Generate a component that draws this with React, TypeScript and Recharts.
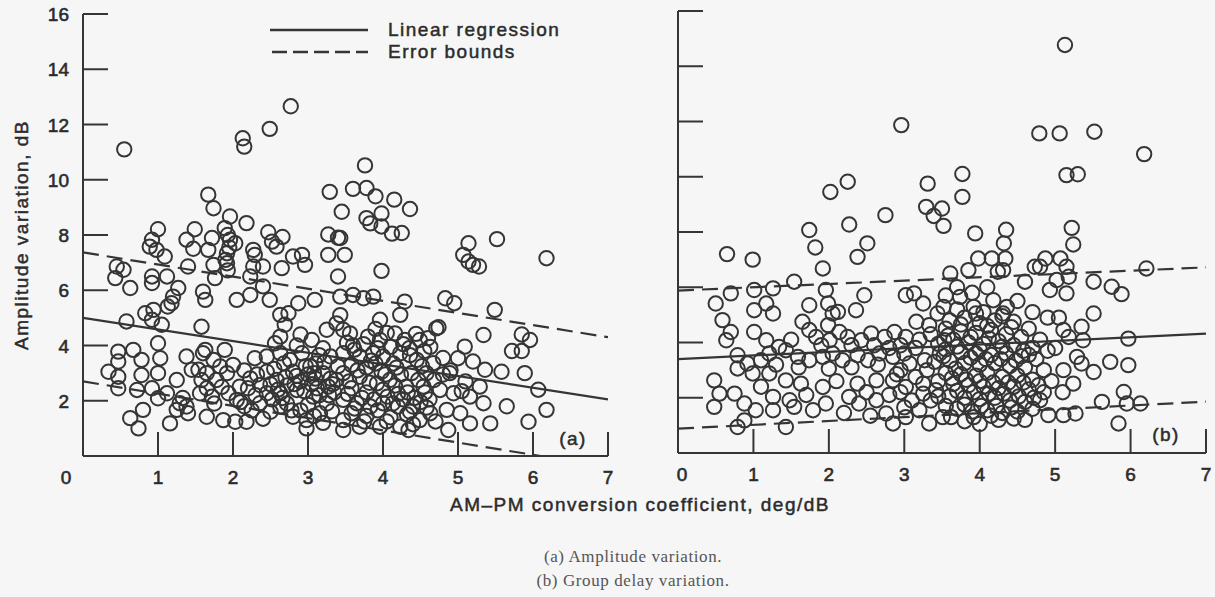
import React from 'react';
import { ScatterChart, Scatter, XAxis, YAxis, ReferenceLine } from 'recharts';

type Pt = [number, number];

const INK = '#353535';
const TEXT = '#2c2c2c';
const SANS = '"Liberation Sans", Arial, Helvetica, sans-serif';
const SERIF = '"Liberation Serif", "Times New Roman", serif';

const xTicks = [0, 1, 2, 3, 4, 5, 6, 7];
const yTicks = [0, 2, 4, 6, 8, 10, 12, 14, 16];

// (a) amplitude variation vs AM-PM coefficient
const ampHigh: Pt[] = [
  [0.55, 11.1], [2.13, 11.5], [2.15, 11.2], [2.49, 11.84], [2.77, 12.66],
  [1.67, 9.46], [1.74, 8.97], [1.96, 8.67], [2.18, 8.43], [1.89, 8.25], [1.0, 8.21], [1.49, 8.21], [2.47, 8.1], [2.66, 7.93],
  [3.29, 9.56], [3.45, 8.84], [3.6, 9.67], [3.76, 10.52], [3.78, 9.7], [3.9, 9.4], [4.15, 9.28], [4.36, 8.94], [3.78, 8.61],
  [3.98, 8.78], [3.83, 8.42], [3.98, 8.31], [4.12, 8.05], [4.25, 8.07], [3.27, 8.02], [3.4, 7.9],
  [0.92, 7.83], [1.38, 7.83], [1.72, 7.89], [1.96, 7.83], [2.03, 7.7], [1.93, 8.0], [2.52, 7.76], [2.58, 7.58], [0.89, 7.58],
  [1.47, 7.5], [1.67, 7.46], [0.98, 7.46], [1.95, 7.55], [2.27, 7.46], [3.43, 7.89],
  [5.52, 7.85], [5.14, 7.7], [6.18, 7.16],
];

const ampMid: Pt[] = [
  [1.92, 7.34], [1.09, 7.22], [2.8, 7.22], [2.92, 7.28], [3.27, 7.28], [3.49, 7.28], [2.29, 7.28], [5.07, 7.28], [5.14, 7.04],
  [5.2, 6.92], [5.28, 6.86],
  [0.45, 6.86], [0.54, 6.74], [0.43, 6.44], [1.4, 6.86], [1.74, 6.92], [1.92, 6.98], [1.9, 7.1], [2.27, 6.86], [2.4, 6.86],
  [2.65, 6.8], [2.96, 6.92], [1.93, 6.72], [3.98, 6.7],
  [0.92, 6.5], [1.12, 6.5], [0.63, 6.08], [0.92, 6.26], [1.27, 6.08], [1.76, 6.44], [2.23, 6.5], [2.4, 6.14], [3.4, 6.5],
  [1.6, 5.95], [1.63, 5.65], [2.05, 5.65], [2.23, 5.83], [2.49, 5.65], [2.87, 5.53], [3.09, 5.65], [1.18, 5.53], [1.2, 5.77],
  [1.13, 5.41], [0.83, 5.17], [0.94, 5.29], [2.63, 5.11], [2.74, 5.17], [3.43, 5.77], [3.6, 5.83], [3.74, 5.71], [3.87, 5.77],
  [4.29, 5.59], [4.83, 5.71], [4.95, 5.53], [5.49, 5.29], [4.23, 5.11], [3.43, 5.1],
];

const ampLowLeft: Pt[] = [
  [0.92, 4.93], [0.58, 4.87], [1.05, 4.75], [1.0, 4.08], [0.47, 3.78], [0.67, 3.84], [0.47, 3.42], [0.78, 3.48], [1.03, 3.54],
  [0.34, 3.05], [0.47, 2.87], [0.78, 2.93], [1.0, 3.0], [0.47, 2.45], [0.72, 2.39], [0.92, 2.45], [1.0, 2.09], [1.12, 2.27],
  [1.25, 2.75], [1.38, 3.6], [1.45, 3.12], [0.8, 1.67], [0.63, 1.37], [0.74, 1.0], [1.16, 1.18], [1.29, 1.91], [1.38, 1.79],
  [1.25, 1.67], [1.33, 2.1], [1.4, 1.55],
  [1.58, 4.68], [1.6, 3.72], [1.74, 3.48], [1.83, 3.24], [1.63, 3.84], [1.89, 3.84], [1.54, 3.12], [1.65, 3.0], [1.58, 2.75],
  [1.78, 2.75], [1.92, 3.0], [1.56, 2.27], [1.72, 2.15], [1.94, 2.27], [2.09, 2.51], [2.23, 2.81], [1.65, 2.45], [1.85, 2.5],
  [2.05, 2.03], [1.65, 1.42], [1.87, 1.3], [2.03, 1.24], [2.18, 1.24], [2.15, 1.8], [2.29, 3.54], [2.45, 3.6], [2.36, 2.57],
  [2.45, 2.27], [2.36, 1.91], [2.0, 3.3], [2.15, 3.1], [1.75, 1.9], [2.3, 2.2],
];

const ampLowCore: Pt[] = [
  [2.63, 3.72], [2.76, 3.48], [2.92, 3.72], [3.03, 3.24], [2.63, 2.27], [2.85, 2.39], [3.07, 2.15], [3.27, 2.51], [3.38, 2.75],
  [2.63, 1.79], [2.8, 1.42], [2.98, 1.3], [2.98, 1.0], [3.16, 1.55], [3.47, 1.3], [3.47, 0.94], [2.56, 4.08], [2.63, 4.32],
  [2.69, 4.75], [3.25, 4.57], [3.38, 4.8], [2.55, 3.15], [2.7, 2.85], [2.8, 3.05], [2.9, 2.7], [3.0, 2.95], [3.1, 3.35],
  [3.2, 3.0], [3.3, 2.8], [3.4, 3.25], [2.5, 2.6], [2.6, 2.4], [2.72, 2.55], [2.95, 2.35], [3.05, 2.6], [3.15, 2.2], [3.25, 1.9],
  [3.35, 2.3], [3.3, 3.6], [3.2, 3.9], [3.05, 4.2], [2.85, 4.0], [2.5, 1.6], [2.72, 1.9], [2.9, 1.65], [3.0, 1.85], [3.2, 1.2],
  [3.32, 1.62], [3.1, 2.8], [2.4, 1.35], [3.15, 3.65], [2.9, 4.4],
  [3.47, 4.57], [3.56, 4.44], [3.8, 4.32], [3.96, 4.2], [4.16, 4.44], [4.29, 4.2], [4.49, 4.2], [4.6, 4.26], [4.71, 4.62],
  [4.74, 4.66], [3.96, 4.93], [3.47, 3.72], [3.69, 3.6], [3.87, 3.72], [4.0, 3.6], [4.23, 3.72], [4.45, 3.48], [4.67, 3.36],
  [3.47, 3.0], [3.69, 2.87], [3.92, 2.63], [4.09, 2.75], [4.31, 2.51], [4.54, 2.51], [4.76, 2.39], [4.94, 2.27], [3.47, 2.03],
  [3.65, 1.91], [3.83, 1.79], [4.0, 1.91], [4.2, 1.79], [4.4, 1.79], [4.63, 1.55], [4.85, 1.67], [3.69, 1.06], [3.96, 1.06],
  [4.23, 1.06], [4.34, 0.94], [4.49, 1.3], [4.87, 0.94], [3.58, 3.3], [3.78, 3.2], [3.98, 3.05], [4.18, 3.2], [4.38, 3.0],
  [4.58, 3.0], [4.8, 2.95], [3.58, 2.45], [3.78, 2.3], [4.0, 2.4], [4.2, 2.25], [4.42, 2.1], [4.62, 2.05], [3.58, 1.55],
  [3.78, 1.45], [4.1, 1.4], [4.32, 1.5], [3.9, 4.6], [4.1, 3.95], [4.35, 3.9], [4.55, 3.8], [3.6, 4.0], [4.8, 3.55], [4.9, 3.1],
  [4.7, 1.25],
];

const ampDense: Pt[] = [
  [3.52, 4.1], [3.62, 3.85], [3.74, 4.05], [3.84, 3.45], [3.93, 3.9], [4.05, 4.45], [4.14, 3.35], [4.27, 4.05], [4.36, 3.65],
  [4.44, 4.42], [4.52, 3.25], [4.63, 3.95], [3.55, 2.7], [3.66, 3.1], [3.82, 2.65], [3.9, 3.35], [4.03, 2.95], [4.16, 2.55],
  [4.24, 2.95], [4.33, 2.3], [4.47, 2.75], [4.56, 2.3], [4.68, 2.75], [3.53, 2.25], [3.72, 2.1], [3.88, 2.05], [4.06, 2.15],
  [4.27, 2.05], [4.5, 1.95], [3.62, 1.72], [3.93, 1.65], [4.13, 1.9], [4.36, 1.6], [4.58, 1.75], [3.75, 1.25], [4.05, 1.25],
  [4.4, 1.15], [2.45, 3.05], [2.58, 2.75], [2.68, 3.35], [2.85, 2.9], [2.97, 3.25], [3.08, 3.0], [3.22, 3.4], [3.33, 2.6],
  [2.52, 2.05], [2.66, 2.1], [2.82, 2.6], [3.12, 2.45], [3.28, 2.2], [2.78, 1.65], [3.08, 1.45], [2.32, 2.95], [2.2, 2.45],
  [2.1, 1.95], [2.25, 1.65],
];

const ampLowRight: Pt[] = [
  [5.09, 3.96], [5.0, 3.54], [5.2, 3.42], [5.36, 3.12], [5.58, 3.05], [4.89, 3.0], [5.16, 2.15], [5.29, 2.51], [5.34, 1.91],
  [5.03, 1.55], [5.16, 1.18], [5.43, 1.18], [5.34, 4.38], [5.85, 4.4], [5.96, 4.2], [5.72, 3.8], [5.85, 3.8], [5.89, 3.0],
  [6.07, 2.4], [6.18, 1.67], [5.65, 1.8], [5.94, 1.24], [5.1, 2.7], [5.05, 2.35],
];

const ampRegression = [{ x: 0, y: 5.0 }, { x: 7, y: 2.05 }];
const ampUpper = [{ x: 0, y: 7.37 }, { x: 7, y: 4.3 }];
const ampLower = [{ x: 0, y: 2.7 }, { x: 7, y: -0.4 }];

// (b) group delay variation vs AM-PM coefficient
const delayHigh: Pt[] = [
  [5.13, 14.77], [2.96, 11.87], [4.79, 11.57], [5.06, 11.57], [5.52, 11.63], [6.18, 10.82], [5.15, 10.06], [5.3, 10.09],
  [3.77, 10.1], [3.77, 9.27], [2.25, 9.82], [2.02, 9.45], [3.31, 9.75], [3.29, 8.91], [3.5, 8.85], [3.39, 8.58], [3.52, 8.22],
  [2.75, 8.61], [2.27, 8.27], [1.74, 8.07], [2.51, 7.59], [1.82, 7.44], [0.65, 7.2], [0.99, 7.0], [3.94, 7.95], [4.35, 8.08],
  [4.32, 7.59], [5.22, 8.15], [5.24, 7.55], [2.38, 7.1], [3.98, 7.04], [4.16, 7.04], [4.34, 7.04], [4.87, 7.04], [5.07, 7.04],
];

const delayMid: Pt[] = [
  [1.92, 6.68], [1.54, 6.2], [3.85, 6.62], [4.31, 6.62], [4.24, 6.56], [4.73, 6.74], [4.8, 6.74], [5.15, 6.74], [5.18, 6.38],
  [5.02, 6.26], [4.93, 5.9], [5.15, 5.78], [5.51, 6.2], [5.75, 6.02], [5.88, 5.75], [6.21, 6.68], [3.61, 6.5], [3.7, 6.0],
  [3.74, 5.65], [3.92, 5.29], [4.18, 5.53], [4.36, 5.29], [4.31, 5.05], [3.52, 5.29], [5.51, 5.05],
  [0.7, 5.78], [1.01, 5.9], [1.26, 5.96], [0.5, 5.41], [1.01, 5.17], [1.17, 5.41], [1.26, 5.05], [1.96, 5.9], [1.99, 5.41],
  [2.05, 5.05], [1.74, 5.35], [2.12, 5.11], [2.36, 5.17], [2.47, 5.71], [3.02, 5.71], [3.13, 5.78], [3.44, 5.05], [3.25, 5.41],
];

const delayLowLeft: Pt[] = [
  [0.59, 4.81], [0.7, 4.38], [0.64, 4.08], [1.01, 4.38], [1.17, 4.08], [1.34, 3.84], [1.65, 4.75], [1.74, 4.45], [1.83, 4.2],
  [2.01, 4.08], [1.99, 4.63], [2.14, 4.38], [2.25, 4.2], [2.43, 4.08], [2.56, 4.33], [2.74, 4.2], [2.87, 4.38], [3.02, 4.2],
  [3.16, 4.75], [3.33, 4.63], [3.53, 4.08],
  [0.79, 3.54], [0.92, 3.24], [0.79, 3.06], [1.1, 3.36], [1.21, 3.6], [1.43, 3.72], [1.59, 3.48], [1.74, 3.36], [1.92, 3.48],
  [2.05, 3.6], [2.18, 3.36], [2.38, 3.54], [2.52, 3.36], [2.67, 3.6], [2.85, 3.48], [3.07, 3.24], [3.27, 3.36], [3.47, 3.6],
  [0.99, 2.88], [1.21, 2.88], [1.43, 2.63], [1.63, 2.51], [1.92, 2.39], [2.38, 2.51], [2.63, 2.63], [2.85, 2.63], [3.02, 2.39],
  [3.25, 2.51], [3.42, 2.27],
  [0.48, 2.63], [0.55, 2.15], [0.48, 1.67], [0.75, 2.15], [0.88, 1.79], [1.03, 1.55], [0.79, 0.94], [0.88, 1.18], [1.26, 2.03],
  [1.26, 1.55], [1.43, 0.94], [1.48, 1.91], [1.54, 1.67], [1.79, 1.55], [1.96, 1.79], [2.27, 2.03], [2.4, 1.79], [2.63, 1.91],
  [2.76, 1.43], [2.85, 1.07], [3.02, 1.3], [3.2, 1.55], [3.33, 1.07], [3.51, 1.3],
  [1.5, 4.1], [1.9, 3.9], [2.3, 3.9], [2.6, 3.9], [2.95, 3.9], [3.2, 4.1], [1.3, 3.2], [1.6, 3.1], [2.0, 3.05], [2.3, 3.1],
  [2.65, 3.2], [2.95, 3.0], [3.3, 3.0], [1.1, 2.4], [1.7, 2.1], [2.1, 2.6], [2.5, 2.2], [2.8, 2.1], [3.1, 1.9], [3.35, 1.9],
  [2.2, 1.45], [2.55, 1.35], [3.0, 1.65],
];

const delayCore: Pt[] = [
  [3.6, 4.8], [3.8, 4.9], [4.0, 4.7], [4.2, 4.8], [4.45, 4.75], [4.65, 4.5], [3.55, 4.5], [3.75, 4.4], [3.95, 4.35], [4.15, 4.45],
  [4.35, 4.3], [4.55, 4.2], [4.8, 4.1], [3.65, 4.1], [3.85, 4.0], [4.05, 3.95], [4.25, 4.05], [4.45, 3.9], [4.7, 3.8], [4.9, 3.7],
  [3.55, 3.75], [3.75, 3.65], [3.95, 3.6], [4.15, 3.55], [4.35, 3.6], [4.55, 3.5], [4.75, 3.4], [3.6, 3.35], [3.8, 3.25],
  [4.0, 3.2], [4.2, 3.25], [4.4, 3.15], [4.6, 3.1], [4.85, 3.0], [3.55, 2.9], [3.75, 2.85], [3.95, 2.8], [4.1, 2.9], [4.3, 2.75],
  [4.5, 2.8], [4.7, 2.65], [4.95, 2.6], [3.65, 2.5], [3.85, 2.45], [4.05, 2.4], [4.25, 2.35], [4.45, 2.4], [4.65, 2.3], [4.85, 2.2],
  [3.6, 2.05], [3.8, 2.0], [4.0, 1.95], [4.2, 2.0], [4.4, 1.9], [4.6, 1.85], [3.7, 1.6], [3.9, 1.5], [4.1, 1.55], [4.3, 1.45],
  [4.5, 1.5], [4.7, 1.6], [3.8, 1.15], [4.0, 1.05], [4.25, 1.2], [4.6, 1.2], [3.55, 5.7], [3.9, 5.8], [4.1, 6.0], [4.5, 5.5],
  [4.7, 5.1], [4.9, 4.9], [3.7, 5.2], [4.05, 5.1], [4.6, 6.2],
];

const delayDense: Pt[] = [
  [3.35, 4.3], [3.45, 3.95], [3.58, 4.25], [3.7, 3.85], [3.88, 4.2], [4.0, 3.75], [4.12, 4.15], [4.3, 3.85], [4.42, 4.55],
  [4.58, 3.7], [3.4, 3.3], [3.52, 3.5], [3.68, 3.05], [3.88, 3.45], [4.08, 3.4], [4.28, 3.4], [4.48, 3.35], [4.65, 3.55],
  [3.45, 2.6], [3.63, 2.7], [3.82, 2.65], [4.0, 2.6], [4.18, 2.55], [4.38, 2.55], [4.58, 2.55], [4.78, 2.45], [3.45, 2.05],
  [3.7, 2.25], [3.92, 2.2], [4.12, 2.15], [4.32, 2.15], [4.52, 2.05], [4.72, 2.0], [3.55, 1.7], [3.8, 1.75], [4.02, 1.7],
  [4.22, 1.7], [4.42, 1.65], [3.62, 1.3], [3.92, 1.3], [4.15, 1.35], [4.45, 1.25], [3.75, 4.65], [4.1, 4.6], [4.3, 4.95],
  [3.95, 5.05], [2.8, 3.8], [3.0, 3.6], [3.15, 3.8], [2.9, 2.85], [3.15, 2.75], [3.25, 2.15], [2.95, 2.2],
];

const delayRight: Pt[] = [
  [5.11, 4.45], [5.18, 4.2], [5.35, 4.57], [5.37, 4.08], [5.97, 4.14], [5.29, 3.48], [5.35, 3.24], [5.73, 3.3], [5.97, 3.18],
  [5.51, 2.93], [5.11, 3.0], [5.24, 2.51], [5.62, 1.85], [5.91, 2.21], [5.95, 1.79], [6.13, 1.79], [5.84, 1.07], [5.27, 1.43],
  [5.11, 1.37], [4.91, 1.37], [4.8, 1.91], [5.05, 4.9], [5.0, 3.8], [5.1, 2.2],
];

const delayRegression = [{ x: 0, y: 3.4 }, { x: 7, y: 4.32 }];
const delayUpper = [{ x: 0, y: 5.88 }, { x: 7, y: 6.72 }];
const delayLower = [{ x: 0, y: 0.88 }, { x: 7, y: 1.86 }];

const toPts = (list: Pt[]) => list.map(([x, y]) => ({ x, y }));

const ring = (props: any) => (
  <circle cx={props.cx} cy={props.cy} r={7.2} fill='none' stroke={INK} strokeWidth={2} />
);

function makeXTick(zeroDx: number) {
  return (props: any) => {
    const { x, y, payload } = props;
    const v = payload.value;
    return (
      <g>
        {v !== 0 && <line x1={x} x2={x} y1={y} y2={y - 24} stroke={INK} strokeWidth={2} />}
        <text
          x={v === 0 ? x + zeroDx : x}
          y={y + 28}
          textAnchor='middle'
          fontFamily={SANS}
          fontSize={19}
          fill={TEXT}
          stroke={TEXT}
          strokeWidth={0.6}
        >
          {v}
        </text>
      </g>
    );
  };
}

function makeYTick(showLabels: boolean) {
  return (props: any) => {
    const { x, y, payload } = props;
    const v = payload.value;
    if (v === 0) return <g />;
    return (
      <g>
        <line x1={x} x2={x + 25} y1={y} y2={y} stroke={INK} strokeWidth={2} />
        {showLabels && (
          <text
            x={x - 14}
            y={y + 7}
            textAnchor='end'
            fontFamily={SANS}
            fontSize={19}
            fill={TEXT}
            stroke={TEXT}
            strokeWidth={0.6}
          >
            {v}
          </text>
        )}
      </g>
    );
  };
}

const axisLine = { stroke: INK, strokeWidth: 2 };

function Panel({
  groups,
  regression,
  upper,
  lower,
  width,
  top,
  right,
  bottom,
  left,
  zeroDx,
  yLabels,
}: {
  groups: Pt[][];
  regression: { x: number; y: number }[];
  upper: { x: number; y: number }[];
  lower: { x: number; y: number }[];
  width: number;
  top: number;
  right: number;
  bottom: number;
  left: number;
  zeroDx: number;
  yLabels: boolean;
}) {
  return (
    <ScatterChart width={width} height={520} margin={{ top, right, bottom: 0, left: 0 }}>
      <XAxis
        type='number'
        dataKey='x'
        domain={[0, 7]}
        ticks={xTicks}
        interval={0}
        height={bottom}
        tickSize={0}
        tickMargin={0}
        axisLine={axisLine}
        tickLine={false}
        tick={makeXTick(zeroDx)}
      />
      <YAxis
        type='number'
        dataKey='y'
        domain={[0, 16]}
        ticks={yTicks}
        interval={0}
        width={left}
        tickSize={0}
        tickMargin={0}
        axisLine={axisLine}
        tickLine={false}
        tick={makeYTick(yLabels)}
      />
      <ReferenceLine segment={regression} stroke={INK} strokeWidth={2.2} ifOverflow='hidden' />
      <ReferenceLine segment={upper} stroke={INK} strokeWidth={2.2} strokeDasharray='16 8' ifOverflow='hidden' />
      <ReferenceLine segment={lower} stroke={INK} strokeWidth={2.2} strokeDasharray='16 8' ifOverflow='hidden' />
      {groups.map((g, i) => (
        <Scatter key={i} data={toPts(g)} shape={ring} isAnimationActive={false} />
      ))}
    </ScatterChart>
  );
}

const wordStyle: React.CSSProperties = {
  position: 'absolute',
  fontFamily: SANS,
  fontSize: 19,
  letterSpacing: 1.5,
  color: TEXT,
  WebkitTextStroke: '0.5px #2c2c2c',
  whiteSpace: 'nowrap',
  lineHeight: 1,
};

const captionStyle: React.CSSProperties = {
  position: 'absolute',
  left: 633,
  transform: 'translate(-50%, -50%)',
  fontFamily: SERIF,
  fontSize: 17,
  letterSpacing: 0.6,
  color: '#555',
  whiteSpace: 'nowrap',
  lineHeight: 1,
};

export default function App() {
  return (
    <div
      style={{
        position: 'absolute',
        left: 0,
        top: 0,
        width: 1215,
        height: 597,
        background: '#f6f6f6',
        overflow: 'hidden',
      }}
    >
      <div style={{ position: 'absolute', left: 0, top: 0 }}>
        <Panel
          groups={[ampHigh, ampMid, ampLowLeft, ampLowCore, ampDense, ampLowRight]}
          regression={ampRegression}
          upper={ampUpper}
          lower={ampLower}
          width={620}
          top={14}
          right={12}
          bottom={64}
          left={83}
          zeroDx={-17}
          yLabels={true}
        />
      </div>
      <div style={{ position: 'absolute', left: 620, top: 0 }}>
        <Panel
          groups={[delayHigh, delayMid, delayLowLeft, delayCore, delayDense, delayRight]}
          regression={delayRegression}
          upper={delayUpper}
          lower={delayLower}
          width={595}
          top={11}
          right={9}
          bottom={67}
          left={58}
          zeroDx={4}
          yLabels={false}
        />
      </div>

      <svg style={{ position: 'absolute', left: 0, top: 0 }} width={600} height={70}>
        <line x1={270} x2={368} y1={30} y2={30} stroke={INK} strokeWidth={2.4} />
        <line x1={272} x2={368} y1={52} y2={52} stroke={INK} strokeWidth={2.4} strokeDasharray='15 6' />
        <text x={388} y={36} fontFamily={SANS} fontSize={19} letterSpacing={1.5} fill={TEXT} stroke={TEXT} strokeWidth={0.5}>
          Linear regression
        </text>
        <text x={388} y={58} fontFamily={SANS} fontSize={19} letterSpacing={1.5} fill={TEXT} stroke={TEXT} strokeWidth={0.5}>
          Error bounds
        </text>
      </svg>

      <div style={{ ...wordStyle, left: 573, top: 438, transform: 'translate(-50%, -50%)' }}>(a)</div>
      <div style={{ ...wordStyle, left: 1166, top: 434, transform: 'translate(-50%, -50%)' }}>(b)</div>

      <div style={{ ...wordStyle, left: 21, top: 235, transform: 'translate(-50%, -50%) rotate(-90deg)' }}>
        Amplitude variation, dB
      </div>
      <div style={{ ...wordStyle, left: 640, top: 504, transform: 'translate(-50%, -50%)' }}>
        AM–PM conversion coefficient, deg/dB
      </div>

      <div style={{ ...captionStyle, top: 556 }}>(a) Amplitude variation.</div>
      <div style={{ ...captionStyle, top: 580 }}>(b) Group delay variation.</div>
    </div>
  );
}
